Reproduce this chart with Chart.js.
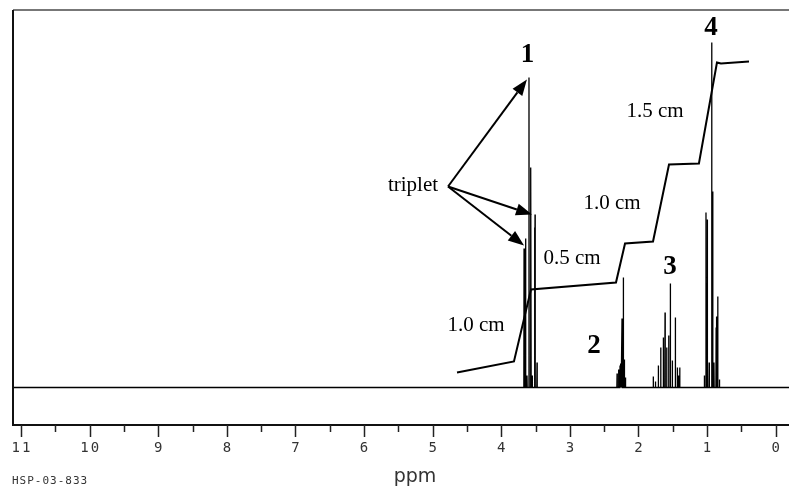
<!DOCTYPE html>
<html>
<head>
<meta charset="utf-8">
<script src="https://cdn.jsdelivr.net/npm/chart.js@4.4.1/dist/chart.umd.min.js"></script>
<style>
  html, body { margin: 0; padding: 0; background: #fff; }
  canvas { display: block; }
</style>
</head>
<body>
<canvas id="nmr" width="789" height="489"></canvas>
<script>
// peak lines (ppm, height above baseline)
var peakPpm = [
  3.668, 3.656, 3.644, 3.625, 3.596, 3.575, 3.567, 3.548, 3.515, 3.508, 3.479,
  2.312, 2.290, 2.269, 2.255, 2.240, 2.221, 2.206, 2.190,
  1.785, 1.753, 1.711, 1.676, 1.638, 1.613, 1.589, 1.560, 1.536, 1.507, 1.463, 1.434, 1.415, 1.399,
  1.040, 1.016, 0.997, 0.970, 0.933, 0.918, 0.900, 0.868, 0.860, 0.845, 0.820
];
var peakHeight = [
  139, 10, 149, 12, 310, 200, 220, 12, 160, 173, 25,
  14, 18, 22, 24, 69, 110, 28, 10,
  11, 6, 22, 40, 50, 75, 40, 52, 104, 27, 70, 20, 12, 20,
  12, 175, 168, 25, 345, 196, 25, 60, 71, 91, 8
];

// integral trace (ppm, height)
var integralPpm = [4.645, 3.815, 3.567, 2.328, 2.196, 1.788, 1.555, 1.119, 0.856, 0.798, 0.389];
var integralHeight = [15, 26, 98, 105, 144, 146, 223, 224, 325, 324, 326];

var tickValues = [0, 1, 2, 3, 4, 5, 6, 7, 8, 9, 10, 11];

var xMin = -0.194, xMax = 11.117;

// build spectrum line from the peak list
var order = peakPpm.map(function (p, i) { return i; })
  .sort(function (a, b) { return peakPpm[b] - peakPpm[a]; });
var spectrum = [{ x: xMax, y: 0 }];
order.forEach(function (i) {
  var p = peakPpm[i];
  spectrum.push({ x: p + 0.003, y: 0 });
  spectrum.push({ x: p, y: peakHeight[i] });
  spectrum.push({ x: p - 0.003, y: 0 });
});
spectrum.push({ x: xMin, y: 0 });

var integral = integralPpm.map(function (p, i) {
  return { x: p, y: integralHeight[i] };
});

// text and arrows, placed in data units
var labels = [
  { t: "1", x: 3.616, y: 332, font: "bold 27px 'Liberation Serif'" },
  { t: "2", x: 2.648, y: 41, font: "bold 27px 'Liberation Serif'" },
  { t: "3", x: 1.541, y: 120, font: "bold 27px 'Liberation Serif'" },
  { t: "4", x: 0.944, y: 359, font: "bold 27px 'Liberation Serif'" },
  { t: "triplet", x: 5.287, y: 202, font: "21px 'Liberation Serif'" },
  { t: "1.0 cm", x: 4.368, y: 62, font: "21px 'Liberation Serif'" },
  { t: "0.5 cm", x: 2.969, y: 129, font: "21px 'Liberation Serif'" },
  { t: "1.0 cm", x: 2.386, y: 184, font: "21px 'Liberation Serif'" },
  { t: "1.5 cm", x: 1.759, y: 276, font: "21px 'Liberation Serif'" }
];
var arrowFrom = { x: 4.776, y: 201 };
var arrowTips = [
  { x: 3.626, y: 308 },
  { x: 3.552, y: 173 },
  { x: 3.668, y: 142 }
];

var decorations = {
  id: "decorations",
  afterDraw: function (chart) {
    var ctx = chart.ctx;
    var a = chart.chartArea;
    var xs = chart.scales.x, ys = chart.scales.y;
    ctx.save();

    // frame
    ctx.strokeStyle = "#777";
    ctx.lineWidth = 2;
    ctx.beginPath();
    ctx.moveTo(a.left, a.top);
    ctx.lineTo(a.right, a.top);
    ctx.stroke();
    ctx.strokeStyle = "#111";
    ctx.beginPath();
    ctx.moveTo(a.left, a.top);
    ctx.lineTo(a.left, a.bottom);
    ctx.lineTo(a.right, a.bottom);
    ctx.stroke();

    // ticks
    ctx.lineWidth = 1.5;
    ctx.strokeStyle = "#222";
    for (var v = 0; v <= 11; v += 0.5) {
      var px = Math.round(xs.getPixelForValue(v)) + 0.5;
      var major = v % 1 === 0;
      ctx.beginPath();
      ctx.moveTo(px, a.bottom);
      ctx.lineTo(px, a.bottom + (major ? 12 : 7));
      ctx.stroke();
    }
    ctx.fillStyle = "#333";
    ctx.font = "14px 'DejaVu Sans Mono'";
    ctx.letterSpacing = "2px";
    ctx.textAlign = "center";
    ctx.textBaseline = "middle";
    tickValues.forEach(function (t) {
      ctx.fillText(String(t), xs.getPixelForValue(t) + 1, a.bottom + 23);
    });
    ctx.letterSpacing = "0px";
    ctx.font = "19px 'DejaVu Sans'";
    ctx.fillText("ppm", 415, 477);
    ctx.font = "11px 'DejaVu Sans Mono'";
    ctx.letterSpacing = "1px";
    ctx.textAlign = "left";
    ctx.fillText("HSP-03-833", 12, 481);
    ctx.letterSpacing = "0px";

    // annotations
    ctx.fillStyle = "#000";
    ctx.textAlign = "center";
    labels.forEach(function (l) {
      ctx.font = l.font;
      ctx.fillText(l.t, xs.getPixelForValue(l.x), ys.getPixelForValue(l.y));
    });

    var fx = xs.getPixelForValue(arrowFrom.x), fy = ys.getPixelForValue(arrowFrom.y);
    ctx.strokeStyle = "#000";
    ctx.lineWidth = 2;
    arrowTips.forEach(function (tip) {
      var tx = xs.getPixelForValue(tip.x), ty = ys.getPixelForValue(tip.y);
      var ang = Math.atan2(ty - fy, tx - fx);
      var len = 16, half = 6;
      var bx = tx - len * Math.cos(ang), by = ty - len * Math.sin(ang);
      ctx.beginPath();
      ctx.moveTo(fx, fy);
      ctx.lineTo(bx, by);
      ctx.stroke();
      ctx.beginPath();
      ctx.moveTo(tx, ty);
      ctx.lineTo(bx + half * Math.sin(ang), by - half * Math.cos(ang));
      ctx.lineTo(bx - half * Math.sin(ang), by + half * Math.cos(ang));
      ctx.closePath();
      ctx.fill();
    });
    ctx.restore();
  }
};

new Chart(document.getElementById("nmr"), {
  type: "line",
  data: {
    datasets: [
      {
        label: "spectrum",
        data: spectrum,
        borderColor: "#000",
        borderWidth: 1.3,
        pointRadius: 0,
        tension: 0
      },
      {
        label: "integral",
        data: integral,
        borderColor: "#000",
        borderWidth: 2,
        pointRadius: 0,
        tension: 0
      }
    ]
  },
  options: {
    responsive: false,
    animation: false,
    devicePixelRatio: 1,
    layout: { padding: { left: 13, top: 10, right: 0, bottom: 64 } },
    scales: {
      x: { type: "linear", reverse: true, min: xMin, max: xMax, display: false },
      y: { type: "linear", min: -37.5, max: 377.5, display: false }
    },
    plugins: {
      legend: { display: false },
      tooltip: { enabled: false }
    }
  },
  plugins: [decorations]
});
</script>
</body>
</html>
